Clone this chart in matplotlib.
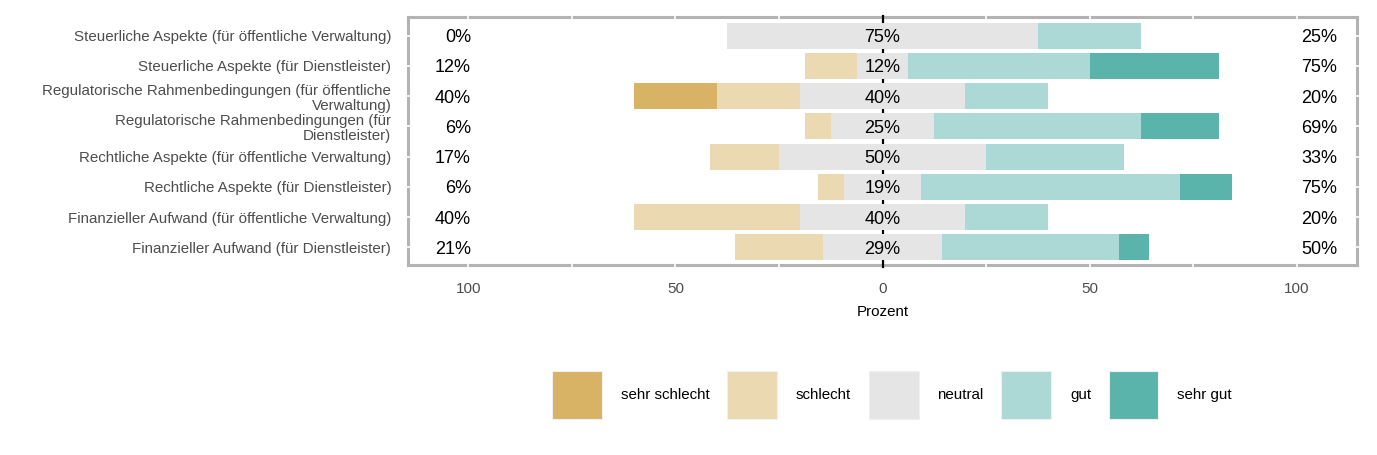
import numpy as np
import matplotlib.pyplot as plt
from matplotlib.patches import Patch

plt.rcParams['font.family'] = ['Liberation Sans', 'DejaVu Sans']

items = [
    'Steuerliche Aspekte (für öffentliche Verwaltung)',
    'Steuerliche Aspekte (für Dienstleister)',
    'Regulatorische Rahmenbedingungen (für öffentliche\nVerwaltung)',
    'Regulatorische Rahmenbedingungen (für\nDienstleister)',
    'Rechtliche Aspekte (für öffentliche Verwaltung)',
    'Rechtliche Aspekte (für Dienstleister)',
    'Finanzieller Aufwand (für öffentliche Verwaltung)',
    'Finanzieller Aufwand (für Dienstleister)',
]
levels = ['sehr schlecht', 'schlecht', 'neutral', 'gut', 'sehr gut']
colors = ['#D8B365', '#EBD9B2', '#E5E5E5', '#ACD9D5', '#5AB4AC']

# percentages per level, rows top to bottom
sehr_schlecht = [0, 0, 20, 0, 0, 0, 0, 0]
schlecht = [0, 12.5, 20, 6.25, 16.67, 6.25, 40, 21.43]
neutral = [75, 12.5, 40, 25, 50, 18.75, 40, 28.57]
gut = [25, 43.75, 20, 50, 33.33, 62.5, 20, 42.86]
sehr_gut = [0, 31.25, 0, 18.75, 0, 12.5, 0, 7.14]

data = np.array([sehr_schlecht, schlecht, neutral, gut, sehr_gut]).T
low = data[:, 0] + data[:, 1]
mid = data[:, 2]
high = data[:, 3] + data[:, 4]

fig = plt.figure(figsize=(13.77, 4.55), dpi=100)
ax = fig.add_axes([408 / 1377, 1 - 265 / 455, 949 / 1377, 248 / 455])

y = np.arange(len(items))
start = -(low + mid / 2)
for i, lev in enumerate(levels):
    ax.barh(y, data[:, i], left=start, height=0.86, color=colors[i], zorder=4)
    start = start + data[:, i]

# grid lines (white) drawn over the grey border
for gx in [-100, -75, -50, -25, 25, 50, 75, 100]:
    ax.plot([gx, gx], [-0.7, 7.7], color='white', lw=1.2, zorder=3, clip_on=False)
for gy in y:
    ax.plot([-116, 116], [gy, gy], color='white', lw=1.2, zorder=3, clip_on=False)
ax.plot([0, 0], [-0.65, 7.65], color='black', lw=1.6, zorder=3.5, clip_on=False)

for i in range(len(items)):
    ax.text(-99.4, i, f'{round(low[i])}%', ha='right', va='center_baseline', fontsize=13, zorder=5)
    ax.text(0, i, f'{round(mid[i])}%', ha='center', va='center_baseline', fontsize=13, zorder=5)
    ax.text(101.2, i, f'{round(high[i])}%', ha='left', va='center_baseline', fontsize=13, zorder=5)

ax.set_xlim(-114.6, 114.6)
ax.set_ylim(7.58, -0.62)
ax.set_yticks(y)
ax.set_yticklabels(items, fontsize=10.9, color='#4D4D4D', linespacing=1.1)
ax.set_xticks([-100, -50, 0, 50, 100])
ax.set_xticklabels(['100', '50', '0', '50', '100'], fontsize=11, color='#4D4D4D')
ax.tick_params(axis='both', length=0)
ax.tick_params(axis='x', pad=12.5)
ax.tick_params(axis='y', pad=12)
ax.set_xlabel('Prozent', fontsize=10.9, labelpad=6)
for s in ax.spines.values():
    s.set_color('#B3B3B3')
    s.set_linewidth(2.2)
    s.set_zorder(2.5)

handles = [Patch(facecolor=c, edgecolor='#F0F0F0', lw=0.8) for c in colors]
fig.legend(handles, levels, loc='center', bbox_to_anchor=(892 / 1377, 1 - 395 / 455),
           ncol=5, frameon=False, fontsize=10.9, handlelength=3.3, handleheight=4.6,
           handletextpad=1.25, columnspacing=1.15)

fig.savefig('out.png', dpi=100)
